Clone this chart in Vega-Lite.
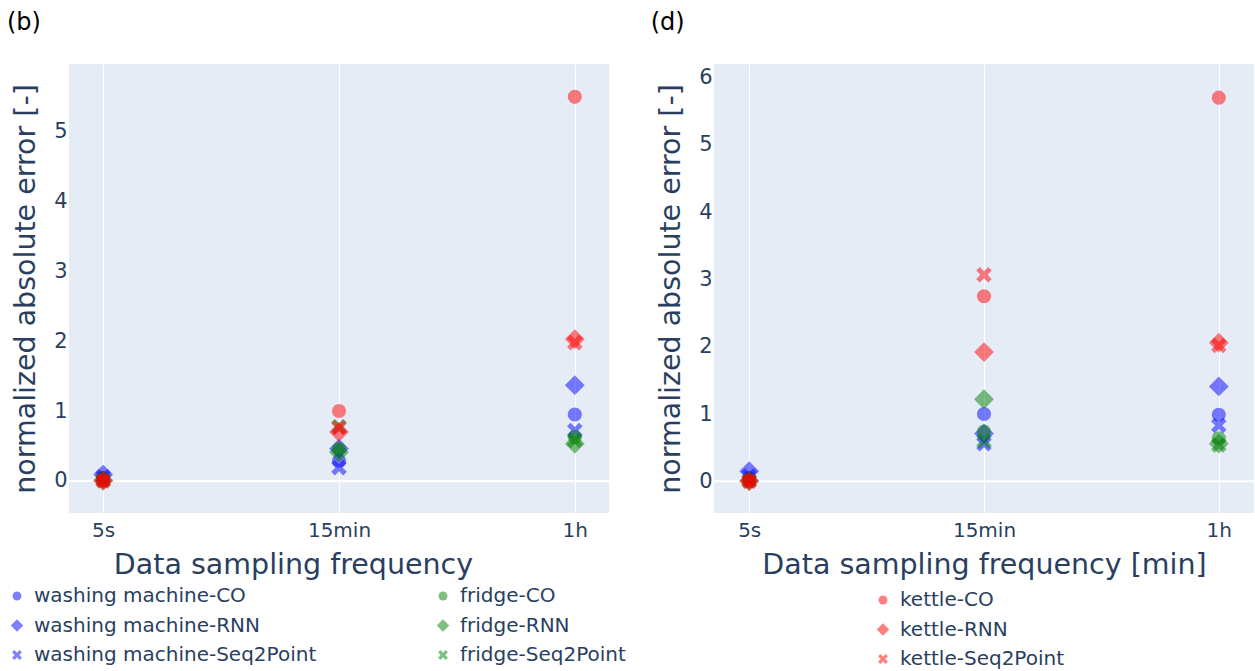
{
  "$schema": "https://vega.github.io/schema/vega-lite/v6.json",
  "background": "white",
  "padding": {"left": 7, "top": 11, "right": 0, "bottom": 0},
  "config": {
    "font": "DejaVu Sans",
    "view": {"fill": "#E5ECF6", "stroke": null},
    "axis": {"domain": false, "ticks": false, "gridColor": "white", "gridWidth": 1, "gridOpacity": 1, "labelColor": "#2a3f5f", "titleColor": "#2a3f5f", "labelFontSize": 20, "titleFontSize": 28.5, "titleFontWeight": "normal", "labelFont": "DejaVu Sans", "titleFont": "DejaVu Sans"},
    "legend": {"labelFont": "DejaVu Sans", "labelFontSize": 20, "labelColor": "#2a3f5f", "symbolSize": 80, "symbolOpacity": 0.5, "symbolStrokeWidth": 0, "rowPadding": 9.5, "labelOffset": 7, "labelLimit": 400},
    "title": {"font": "DejaVu Sans", "fontSize": 24, "fontWeight": "normal", "color": "black", "anchor": "start", "frame": "bounds"}
  },
  "datasets": {
    "b": [
      {"freq": "5s", "series": "washing machine-CO", "error": 0.04},
      {"freq": "5s", "series": "washing machine-RNN", "error": 0.09},
      {"freq": "5s", "series": "washing machine-Seq2Point", "error": 0.06},
      {"freq": "5s", "series": "fridge-CO", "error": 0.01},
      {"freq": "5s", "series": "fridge-RNN", "error": 0.01},
      {"freq": "5s", "series": "fridge-Seq2Point", "error": 0.01},
      {"freq": "5s", "series": "kettle-CO", "error": 0.0},
      {"freq": "5s", "series": "kettle-RNN", "error": 0.0},
      {"freq": "5s", "series": "kettle-Seq2Point", "error": 0.0},
      {"freq": "15min", "series": "washing machine-CO", "error": 0.29},
      {"freq": "15min", "series": "washing machine-RNN", "error": 0.46},
      {"freq": "15min", "series": "washing machine-Seq2Point", "error": 0.19},
      {"freq": "15min", "series": "fridge-CO", "error": 0.46},
      {"freq": "15min", "series": "fridge-RNN", "error": 0.41},
      {"freq": "15min", "series": "fridge-Seq2Point", "error": 0.78},
      {"freq": "15min", "series": "kettle-CO", "error": 1.0},
      {"freq": "15min", "series": "kettle-RNN", "error": 0.7},
      {"freq": "15min", "series": "kettle-Seq2Point", "error": 0.76},
      {"freq": "1h", "series": "washing machine-CO", "error": 0.95},
      {"freq": "1h", "series": "washing machine-RNN", "error": 1.37},
      {"freq": "1h", "series": "washing machine-Seq2Point", "error": 0.72},
      {"freq": "1h", "series": "fridge-CO", "error": 0.63},
      {"freq": "1h", "series": "fridge-RNN", "error": 0.53},
      {"freq": "1h", "series": "fridge-Seq2Point", "error": 0.58},
      {"freq": "1h", "series": "kettle-CO", "error": 5.5},
      {"freq": "1h", "series": "kettle-RNN", "error": 2.03},
      {"freq": "1h", "series": "kettle-Seq2Point", "error": 1.98}
    ],
    "d": [
      {"freq": "5s", "series": "washing machine-CO", "error": 0.05},
      {"freq": "5s", "series": "washing machine-RNN", "error": 0.15},
      {"freq": "5s", "series": "washing machine-Seq2Point", "error": 0.08},
      {"freq": "5s", "series": "fridge-CO", "error": 0.01},
      {"freq": "5s", "series": "fridge-RNN", "error": 0.01},
      {"freq": "5s", "series": "fridge-Seq2Point", "error": 0.01},
      {"freq": "5s", "series": "kettle-CO", "error": 0.0},
      {"freq": "5s", "series": "kettle-RNN", "error": 0.0},
      {"freq": "5s", "series": "kettle-Seq2Point", "error": 0.0},
      {"freq": "15min", "series": "washing machine-CO", "error": 1.0},
      {"freq": "15min", "series": "washing machine-RNN", "error": 0.71},
      {"freq": "15min", "series": "washing machine-Seq2Point", "error": 0.56},
      {"freq": "15min", "series": "fridge-CO", "error": 0.74},
      {"freq": "15min", "series": "fridge-RNN", "error": 1.22},
      {"freq": "15min", "series": "fridge-Seq2Point", "error": 0.6},
      {"freq": "15min", "series": "kettle-CO", "error": 2.75},
      {"freq": "15min", "series": "kettle-RNN", "error": 1.92},
      {"freq": "15min", "series": "kettle-Seq2Point", "error": 3.07},
      {"freq": "1h", "series": "washing machine-CO", "error": 0.99},
      {"freq": "1h", "series": "washing machine-RNN", "error": 1.41},
      {"freq": "1h", "series": "washing machine-Seq2Point", "error": 0.83},
      {"freq": "1h", "series": "fridge-CO", "error": 0.64},
      {"freq": "1h", "series": "fridge-RNN", "error": 0.56},
      {"freq": "1h", "series": "fridge-Seq2Point", "error": 0.54},
      {"freq": "1h", "series": "kettle-CO", "error": 5.7},
      {"freq": "1h", "series": "kettle-RNN", "error": 2.06},
      {"freq": "1h", "series": "kettle-Seq2Point", "error": 2.02}
    ]
  },
  "hconcat": [
    {
      "title": {"text": "(b)", "dx": 0, "offset": 29},
      "width": 540,
      "height": 449,
      "layer": [
        {
          "data": {"values": [{}]},
          "mark": {"type": "rule", "color": "white", "strokeWidth": 2},
          "encoding": {"y": {"datum": 0, "type": "quantitative"}}
        },
        {
          "data": {"name": "b"},
          "mark": {"type": "point", "filled": true, "opacity": 0.5, "size": 200, "strokeWidth": 0},
          "encoding": {
            "x": {"field": "freq", "type": "nominal", "sort": ["5s", "15min", "1h"], "scale": {"type": "point", "padding": 0.145}, "axis": {"title": "Data sampling frequency", "labelAngle": 0, "grid": true, "labelPadding": 7, "titlePadding": 10, "titleX": 224, "titleAnchor": "middle"}},
            "y": {"field": "error", "type": "quantitative", "scale": {"domain": [-0.46, 5.97], "nice": false, "zero": false}, "axis": {"title": "normalized absolute error [-]", "values": [0, 1, 2, 3, 4, 5], "format": "d", "labelPadding": 2, "labelFontSize": 21, "titlePadding": 13}},
            "color": {"field": "series", "type": "nominal",
              "scale": {"domain": ["washing machine-CO", "washing machine-RNN", "washing machine-Seq2Point", "fridge-CO", "fridge-RNN", "fridge-Seq2Point", "kettle-CO", "kettle-RNN", "kettle-Seq2Point"],
                        "range": ["#0000ff", "#0000ff", "#0000ff", "#008000", "#008000", "#008000", "#ff0000", "#ff0000", "#ff0000"]},
              "legend": {"title": null, "orient": "none", "legendX": -62, "legendY": 522, "columns": 2, "columnPadding": 116, "values": ["washing machine-CO", "washing machine-RNN", "washing machine-Seq2Point", "fridge-CO", "fridge-RNN", "fridge-Seq2Point"]}},
            "shape": {"field": "series", "type": "nominal",
              "scale": {"domain": ["washing machine-CO", "washing machine-RNN", "washing machine-Seq2Point", "fridge-CO", "fridge-RNN", "fridge-Seq2Point", "kettle-CO", "kettle-RNN", "kettle-Seq2Point"],
                        "range": ["circle", "M0,-1.4L1.4,0L0,1.4L-1.4,0Z", "M-1.1,-0.6L-0.6,-1.1L0,-0.5L0.6,-1.1L1.1,-0.6L0.5,0L1.1,0.6L0.6,1.1L0,0.5L-0.6,1.1L-1.1,0.6L-0.5,0Z", "circle", "M0,-1.4L1.4,0L0,1.4L-1.4,0Z", "M-1.1,-0.6L-0.6,-1.1L0,-0.5L0.6,-1.1L1.1,-0.6L0.5,0L1.1,0.6L0.6,1.1L0,0.5L-0.6,1.1L-1.1,0.6L-0.5,0Z", "circle", "M0,-1.4L1.4,0L0,1.4L-1.4,0Z", "M-1.1,-0.6L-0.6,-1.1L0,-0.5L0.6,-1.1L1.1,-0.6L0.5,0L1.1,0.6L0.6,1.1L0,0.5L-0.6,1.1L-1.1,0.6L-0.5,0Z"]},
              "legend": {"title": null, "orient": "none", "legendX": -62, "legendY": 522, "columns": 2, "columnPadding": 116, "values": ["washing machine-CO", "washing machine-RNN", "washing machine-Seq2Point", "fridge-CO", "fridge-RNN", "fridge-Seq2Point"]}}
          }
        }
      ]
    },
    {
      "title": {"text": "(d)", "dx": -6, "offset": 29},
      "width": 540,
      "height": 449,
      "layer": [
        {
          "data": {"values": [{}]},
          "mark": {"type": "rule", "color": "white", "strokeWidth": 2},
          "encoding": {"y": {"datum": 0, "type": "quantitative"}}
        },
        {
          "data": {"name": "d"},
          "mark": {"type": "point", "filled": true, "opacity": 0.5, "size": 200, "strokeWidth": 0},
          "encoding": {
            "x": {"field": "freq", "type": "nominal", "sort": ["5s", "15min", "1h"], "scale": {"type": "point", "padding": 0.15}, "axis": {"title": "Data sampling frequency [min]", "labelAngle": 0, "grid": true, "labelPadding": 7, "titlePadding": 10}},
            "y": {"field": "error", "type": "quantitative", "scale": {"domain": [-0.47, 6.2], "nice": false, "zero": false}, "axis": {"title": "normalized absolute error [-]", "values": [0, 1, 2, 3, 4, 5, 6], "format": "d", "labelPadding": 2, "labelFontSize": 21, "titlePadding": 13}},
            "color": {"field": "series", "type": "nominal",
              "scale": {"domain": ["washing machine-CO", "washing machine-RNN", "washing machine-Seq2Point", "fridge-CO", "fridge-RNN", "fridge-Seq2Point", "kettle-CO", "kettle-RNN", "kettle-Seq2Point"],
                        "range": ["#0000ff", "#0000ff", "#0000ff", "#008000", "#008000", "#008000", "#ff0000", "#ff0000", "#ff0000"]},
              "legend": {"title": null, "orient": "none", "legendX": 159, "legendY": 526, "values": ["kettle-CO", "kettle-RNN", "kettle-Seq2Point"]}},
            "shape": {"field": "series", "type": "nominal",
              "scale": {"domain": ["washing machine-CO", "washing machine-RNN", "washing machine-Seq2Point", "fridge-CO", "fridge-RNN", "fridge-Seq2Point", "kettle-CO", "kettle-RNN", "kettle-Seq2Point"],
                        "range": ["circle", "M0,-1.4L1.4,0L0,1.4L-1.4,0Z", "M-1.1,-0.6L-0.6,-1.1L0,-0.5L0.6,-1.1L1.1,-0.6L0.5,0L1.1,0.6L0.6,1.1L0,0.5L-0.6,1.1L-1.1,0.6L-0.5,0Z", "circle", "M0,-1.4L1.4,0L0,1.4L-1.4,0Z", "M-1.1,-0.6L-0.6,-1.1L0,-0.5L0.6,-1.1L1.1,-0.6L0.5,0L1.1,0.6L0.6,1.1L0,0.5L-0.6,1.1L-1.1,0.6L-0.5,0Z", "circle", "M0,-1.4L1.4,0L0,1.4L-1.4,0Z", "M-1.1,-0.6L-0.6,-1.1L0,-0.5L0.6,-1.1L1.1,-0.6L0.5,0L1.1,0.6L0.6,1.1L0,0.5L-0.6,1.1L-1.1,0.6L-0.5,0Z"]},
              "legend": {"title": null, "orient": "none", "legendX": 159, "legendY": 526, "values": ["kettle-CO", "kettle-RNN", "kettle-Seq2Point"]}}
          }
        }
      ]
    }
  ],
  "spacing": 24,
  "resolve": {"scale": {"color": "independent", "shape": "independent"}, "legend": {"color": "independent", "shape": "independent"}}
}
